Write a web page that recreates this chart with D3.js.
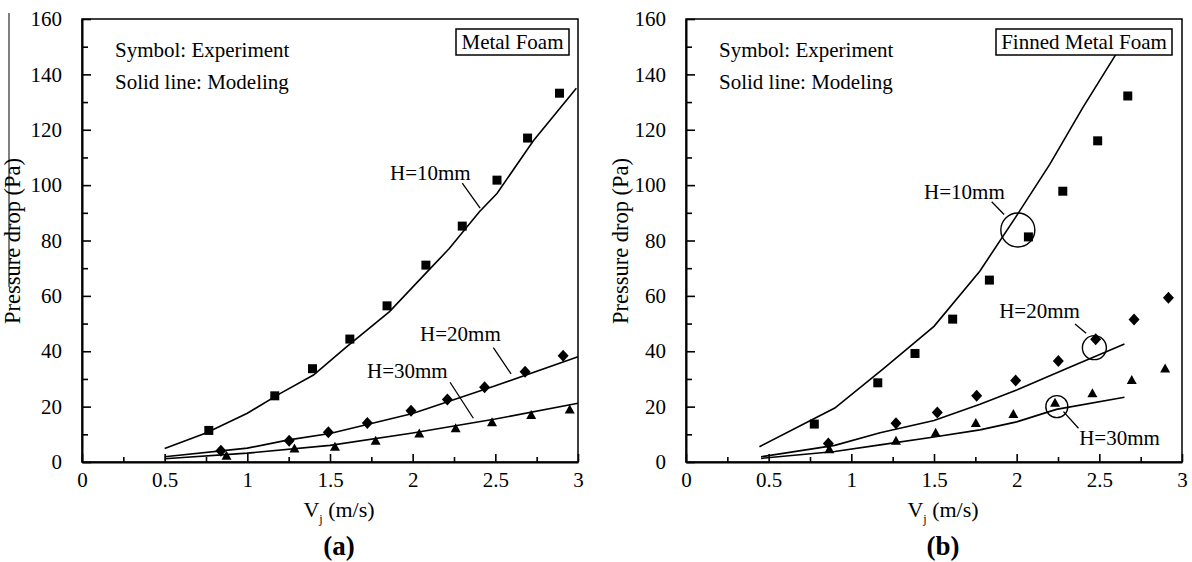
<!DOCTYPE html>
<html><head><meta charset="utf-8">
<script src="https://cdn.jsdelivr.net/npm/d3@7"></script>
<style>
body{margin:0;background:#fff;}
svg{display:block;font-family:"Liberation Serif","Times New Roman",serif;}
</style></head>
<body><svg id="c" width="1192" height="562"></svg>
<script>
// ---------- DATA ----------
const xTicks = [0, 0.5, 1, 1.5, 2, 2.5, 3];
const yTicks = [0, 20, 40, 60, 80, 100, 120, 140, 160];
const xMinor = [0.25, 0.75, 1.25, 1.75, 2.25, 2.75];
const yMinor = [10, 30, 50, 70, 90, 110, 130, 150];

// (a) Metal foam — experiment
const aExp10V = [0.767, 1.166, 1.394, 1.62, 1.845, 2.08, 2.30, 2.51, 2.695, 2.888];
const aExp10P = [11.4, 23.9, 33.7, 44.4, 56.4, 71.1, 85.2, 101.8, 117, 133.2];
const aExp20V = [0.84, 1.253, 1.49, 1.726, 1.99, 2.21, 2.435, 2.68, 2.91];
const aExp20P = [4.1, 7.7, 10.7, 14.1, 18.5, 22.6, 27, 32.6, 38.4];
const aExp30V = [0.874, 1.285, 1.53, 1.776, 2.04, 2.26, 2.48, 2.717, 2.95];
const aExp30P = [2.3, 4.9, 5.5, 7.7, 10.3, 12.2, 14.4, 17, 19];
// (a) modeling
const aMod10V = [0.5, 0.75, 1.0, 1.2, 1.4, 1.6, 1.86, 2.08, 2.22, 2.405, 2.51, 2.73, 2.99];
const aMod10P = [4.9, 10.5, 17.6, 24.8, 31.4, 41.6, 54.3, 68.2, 77, 90.5, 97, 116, 135];
const aMod20V = [0.5, 1.0, 1.25, 1.5, 2.0, 2.5, 3.0];
const aMod20P = [1.9, 5.0, 8.0, 10.3, 17.5, 27.5, 38];
const aMod30V = [0.5, 1.0, 1.5, 2.0, 2.5, 3.0];
const aMod30P = [1.2, 3.2, 6.0, 10.5, 15.5, 21.2];

// (b) Finned metal foam — experiment
const bExp10V = [0.776, 1.16, 1.385, 1.613, 1.835, 2.071, 2.279, 2.49, 2.672];
const bExp10P = [13.7, 28.6, 39.2, 51.6, 65.7, 81.3, 97.8, 116, 132.2];
const bExp20V = [0.861, 1.27, 1.52, 1.758, 1.994, 2.252, 2.478, 2.71, 2.918];
const bExp20P = [6.7, 14, 17.9, 23.9, 29.4, 36.5, 44.3, 51.5, 59.3];
const bExp30V = [0.867, 1.27, 1.51, 1.753, 1.98, 2.232, 2.458, 2.696, 2.898];
const bExp30P = [4.6, 7.7, 10.6, 14.1, 17.3, 21.4, 24.8, 29.6, 33.8];
// (b) modeling
const bMod10V = [0.444, 0.9, 1.2, 1.5, 1.778, 2.0, 2.2, 2.4, 2.65];
const bMod10P = [5.5, 19.5, 34, 49, 69, 89, 107.5, 128, 152];
const bMod20V = [0.454, 0.9, 1.174, 1.5, 1.778, 2.0, 2.303, 2.652];
const bMod20P = [1.9, 6, 10.6, 15, 20.9, 26, 33.8, 42.6];
const bMod30V = [0.454, 0.9, 1.174, 1.5, 1.778, 2.0, 2.24, 2.652];
const bMod30P = [1.3, 3.8, 6.2, 9, 11.6, 14.5, 19, 23.4];

const seriesLabels = ["H=10mm", "H=20mm", "H=30mm"];
const panelTitles = ["Metal Foam", "Finned Metal Foam"];
const panelTags = ["(a)", "(b)"];

// ---------- LAYOUT ----------
const svg = d3.select("#c");
const FONT = 21;
const zip = (v, p) => v.map((d, i) => [d, p[i]]);

const panels = [
  { left: 82, right: 578, tag: panelTags[0], title: panelTitles[0],
    titleBox: [456, 29, 113, 26],
    exp: [zip(aExp10V, aExp10P), zip(aExp20V, aExp20P), zip(aExp30V, aExp30P)],
    mod: [zip(aMod10V, aMod10P), zip(aMod20V, aMod20P), zip(aMod30V, aMod30P)],
    ann: [
      { t: [1.863, 101.8], l: [[2.30, 100.7], [2.408, 91.7]] },
      { t: [2.045, 43.8], l: [[2.488, 41.3], [2.595, 31.8]] },
      { t: [1.724, 30.3], l: [[2.226, 28.8], [2.367, 15.8]] }
    ],
    circles: [],
    ylabX: 20, overline: true },
  { left: 686, right: 1182, tag: panelTags[1], title: panelTitles[1],
    titleBox: [996, 29, 176, 26],
    exp: [zip(bExp10V, bExp10P), zip(bExp20V, bExp20P), zip(bExp30V, bExp30P)],
    mod: [zip(bMod10V, bMod10P), zip(bMod20V, bMod20P), zip(bMod30V, bMod30P)],
    ann: [
      { t: [1.440, 94.9], l: [[1.849, 94], [1.924, 89.4]] },
      { t: [1.894, 51.9], l: [[2.353, 49.8], [2.42, 46.5]] },
      { t: [2.378, 6.1], l: [[2.283, 18.2], [2.374, 12.2]] }
    ],
    circles: [[2.007, 83.8, 17], [2.47, 41.3, 12], [2.243, 20, 11]],
    ylabX: 628, overline: false }
];
const TOP = 19, BOTTOM = 462;

const shapes = [
  "M-4.5,-4.5H4.5V4.5H-4.5Z",   // square
  "M0,-6L5.5,0L0,6L-5.5,0Z",    // diamond
  "M0,-5L5,4H-5Z"               // triangle
];

panels.forEach(P => {
  const x = d3.scaleLinear().domain([0, 3]).range([P.left, P.right]);
  const y = d3.scaleLinear().domain([0, 160]).range([BOTTOM, TOP]);
  const g = svg.append("g");

  g.append("rect").attr("x", P.left).attr("y", TOP)
    .attr("width", P.right - P.left).attr("height", BOTTOM - TOP)
    .attr("fill", "none").attr("stroke", "#000").attr("stroke-width", 1.5);

  const line = d3.line().x(d => x(d[0])).y(d => y(d[1]));
  P.mod.forEach(s => g.append("path").attr("d", line(s))
    .attr("fill", "none").attr("stroke", "#000").attr("stroke-width", 1.6));

  P.exp.forEach((s, i) => g.selectAll(null).data(s).enter().append("path")
    .attr("d", shapes[i])
    .attr("transform", d => `translate(${x(d[0])},${y(d[1])})`)
    .attr("fill", "#000"));

  P.circles.forEach(c => g.append("circle").attr("cx", x(c[0])).attr("cy", y(c[1]))
    .attr("r", c[2]).attr("fill", "none").attr("stroke", "#000").attr("stroke-width", 1.4));

  P.ann.forEach((a, i) => {
    g.append("text").attr("x", x(a.t[0])).attr("y", y(a.t[1]))
      .attr("font-size", FONT).text(seriesLabels[i]);
    g.append("line").attr("x1", x(a.l[0][0])).attr("y1", y(a.l[0][1]))
      .attr("x2", x(a.l[1][0])).attr("y2", y(a.l[1][1]))
      .attr("stroke", "#000").attr("stroke-width", 1.3);
  });

  const ax = g.append("g").attr("transform", `translate(0,${BOTTOM})`)
    .call(d3.axisBottom(x).tickValues(xTicks).tickSize(-8).tickSizeOuter(0).tickPadding(18)
      .tickFormat(d3.format("")));
  g.append("g").attr("transform", `translate(0,${BOTTOM})`)
    .call(d3.axisBottom(x).tickValues(xMinor).tickSize(-5).tickSizeOuter(0).tickFormat(""))
    .select(".domain").remove();
  const ay = g.append("g").attr("transform", `translate(${P.left},0)`)
    .call(d3.axisLeft(y).tickValues(yTicks).tickSize(-9).tickSizeOuter(0).tickPadding(20));
  g.append("g").attr("transform", `translate(${P.left},0)`)
    .call(d3.axisLeft(y).tickValues(yMinor).tickSize(-6).tickSizeOuter(0).tickFormat(""))
    .select(".domain").remove();
  [ax, ay].forEach(a => {
    a.selectAll("text").attr("font-size", FONT).attr("font-family", "Liberation Serif").attr("fill", "#000");
    a.select(".domain").attr("stroke-width", 2);
  });
  g.selectAll(".tick line").attr("stroke-width", 1.6);
  ax.selectAll("text").attr("dy", "0").attr("y", 25);

  g.append("text").attr("x", P.left + 33).attr("y", 57).attr("font-size", FONT).text("Symbol: Experiment");
  g.append("text").attr("x", P.left + 33).attr("y", 89).attr("font-size", FONT).text("Solid line: Modeling");

  const [bx, by, bw, bh] = P.titleBox;
  g.append("rect").attr("x", bx).attr("y", by).attr("width", bw).attr("height", bh)
    .attr("fill", "#fff").attr("stroke", "#000").attr("stroke-width", 1.5);
  g.append("text").attr("x", bx + bw / 2).attr("y", by + 20).attr("text-anchor", "middle")
    .attr("font-size", FONT).text(P.title);

  g.append("text").attr("transform", `translate(${P.ylabX},241) rotate(-90)`)
    .attr("text-anchor", "middle").attr("font-size", 22.5).text("Pressure drop (Pa)");
  if (P.overline) {
    g.append("line").attr("x1", 9).attr("x2", 9).attr("y1", 13).attr("y2", 287)
      .attr("stroke", "#000").attr("stroke-width", 1);
  }

  const cx = (P.left + P.right) / 2 + 9;
  const xt = g.append("text").attr("x", cx).attr("y", 517).attr("text-anchor", "middle").attr("font-size", 22);
  xt.append("tspan").text("V");
  xt.append("tspan").attr("font-size", 12).attr("dy", 6).text("j");
  xt.append("tspan").attr("dy", -6).text("\u00a0(m/s)");

  g.append("text").attr("x", cx).attr("y", 555).attr("text-anchor", "middle")
    .attr("font-size", 27).attr("font-weight", "bold").text(P.tag);
});
</script>
</body></html>
